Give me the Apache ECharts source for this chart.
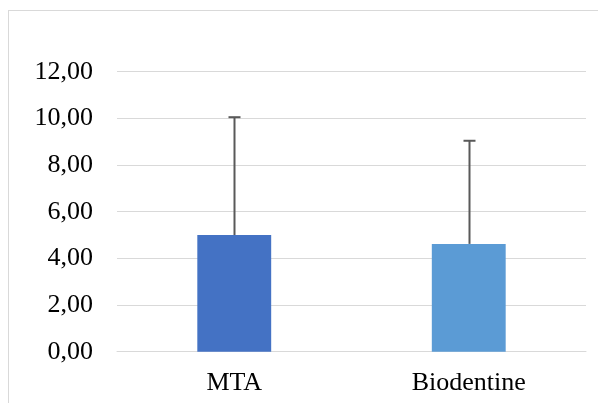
<!DOCTYPE html>
<html>
<head>
<meta charset="utf-8">
<script src="https://cdn.jsdelivr.net/npm/echarts@6/dist/echarts.min.js"></script>
<style>
  html, body { margin: 0; padding: 0; background: #fff; }
  #main { width: 598px; height: 403px; }
</style>
</head>
<body>
<div id="main"></div>
<script>
// data
var categories = ['MTA', 'Biodentine'];
var means = [5.00, 4.62];
var upper = [10.05, 9.04];   // top of the error bar (mean + sd)
var barColors = ['#4472C4', '#5B9BD5'];
var yTicks = { min: 0, max: 12, interval: 2 };

var chart = echarts.init(document.getElementById('main'));

var errData = categories.map(function (c, i) { return [i, means[i], upper[i]]; });

var option = {
  backgroundColor: '#ffffff',
  animation: false,
  grid: { left: 117, right: 12, top: 71.7, bottom: 51.3 },
  graphic: [
    { type: 'line', shape: { x1: 8, y1: 10.5, x2: 598, y2: 10.5 }, style: { stroke: '#d9d9d9', lineWidth: 1 } },
    { type: 'line', shape: { x1: 8.5, y1: 10, x2: 8.5, y2: 403 }, style: { stroke: '#d9d9d9', lineWidth: 1 } }
  ],
  xAxis: {
    type: 'category',
    data: categories,
    axisLine: { show: true, lineStyle: { color: '#d9d9d9', width: 1 } },
    axisTick: { show: false },
    axisLabel: { margin: 18, fontFamily: 'Liberation Serif', fontSize: 26, color: '#000' }
  },
  yAxis: {
    type: 'value',
    min: yTicks.min, max: yTicks.max, interval: yTicks.interval,
    axisLine: { show: false },
    axisTick: { show: false },
    splitLine: { lineStyle: { color: '#d9d9d9', width: 1 } },
    axisLabel: {
      margin: 24, fontFamily: 'Liberation Serif', fontSize: 26, color: '#000',
      formatter: function (v) { return v.toFixed(2).replace('.', ','); }
    }
  },
  series: [
    {
      type: 'bar',
      barWidth: '31.5%',
      data: means.map(function (v, i) { return { value: v, itemStyle: { color: barColors[i] } }; }),
      z: 2
    },
    {
      type: 'custom',
      z: 1,
      data: errData,
      renderItem: function (params, api) {
        var x = api.value(0);
        var lo = api.coord([x, api.value(1)]);
        var hi = api.coord([x, api.value(2)]);
        var cx = Math.round(lo[0]) + 0.5;
        var style = { stroke: '#595959', lineWidth: 2 };
        return {
          type: 'group',
          children: [
            { type: 'line', shape: { x1: cx, y1: lo[1], x2: cx, y2: hi[1] }, style: style },
            { type: 'line', shape: { x1: cx - 6, y1: hi[1], x2: cx + 6, y2: hi[1] }, style: style }
          ]
        };
      }
    }
  ]
};

chart.setOption(option);
</script>
</body>
</html>
